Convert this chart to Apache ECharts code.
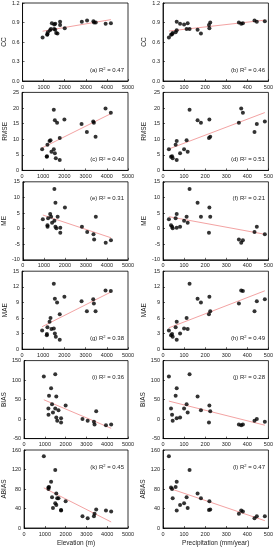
<!DOCTYPE html>
<html><head><meta charset="utf-8">
<script src="https://cdn.jsdelivr.net/npm/echarts@6/dist/echarts.min.js"></script>
<style>html,body{margin:0;padding:0;background:#fff}#c{width:276px;height:550px}</style>
</head><body><div id="c"></div>
<script>
// 23 stations
const elevation     = [950, 1170, 1200, 1300, 1345, 1390, 1500, 1500, 1550, 1550, 1595, 1655, 1780, 1780, 2000, 2810, 3060, 3360, 3390, 3470, 3940, 4190, 1175];
const precipitation = [28, 38, 60, 65, 112, 117, 126, 100, 164, 81, 46, 180, 218, 65, 220, 445, 434, 483, 360, 224, 371, 379, 43];
const CC    = [0.67, 0.71, 0.75, 0.78, 0.80, 0.89, 0.80, 0.87, 0.79, 0.88, 0.74, 0.73, 0.86, 0.91, 0.81, 0.91, 0.93, 0.92, 0.90, 0.90, 0.88, 0.89, 0.72];
const RMSE  = [6.8, 4.4, 8.2, 9.4, 9.7, 6.0, 19.4, 6.8, 16.1, 5.5, 3.9, 15.3, 10.4, 3.3, 16.3, 14.9, 12.3, 15.7, 15.3, 10.8, 19.8, 18.5, 4.5];
const ME    = [3.0, 1.1, 3.3, 4.7, 3.8, 1.9, 12.7, 2.5, 8.3, 0.6, 0.1, 3.8, -1.3, 0.3, 6.8, 0.6, -1.1, -1.8, -3.5, 3.8, -4.5, -3.7, 0.6];
const MAE   = [3.6, 2.7, 4.2, 5.3, 6.0, 3.9, 12.6, 4.0, 9.7, 3.0, 2.4, 9.0, 6.7, 1.8, 10.1, 9.2, 7.3, 9.6, 8.8, 7.3, 11.3, 11.2, 2.9];
const BIAS  = [109, 27, 60, 79, 38, 17, 115, 27, 58, 4, -4, 23, -9, 2, 35, 0, -4, -7, -14, 20, -16, -14, 11];
const ABIAS = [147, 83, 84, 95, 63, 41, 119, 51, 71, 47, 61, 61, 37, 36, 55, 24, 20, 24, 29, 38, 36, 34, 80];

const xTicksElev   = [0, 1000, 2000, 3000, 4000, 5000];
const xTicksPrecip = [0, 100, 200, 300, 400, 500];
const r2Elev   = ['0.47', '0.40', '0.31', '0.38', '0.36', '0.45'];
const r2Precip = ['0.46', '0.51', '0.21', '0.49', '0.28', '0.47'];
const tagsElev   = ['a', 'c', 'e', 'g', 'i', 'k'];
const tagsPrecip = ['b', 'd', 'f', 'h', 'j', 'l'];

const metrics = [
  {name:'CC', data:CC, min:0, max:1.2, interval:0.3, dec:1, pos:'bottom'},
  {name:'RMSE', data:RMSE, min:0, max:25, interval:5, dec:0, pos:'bottom'},
  {name:'ME', data:ME, min:-10, max:15, interval:5, dec:0, pos:'top'},
  {name:'MAE', data:MAE, min:0, max:15, interval:3, dec:0, pos:'bottom'},
  {name:'BIAS', data:BIAS, min:-50, max:150, interval:50, dec:0, pos:'top'},
  {name:'ABIAS', data:ABIAS, min:0, max:160, interval:40, dec:0, pos:'top'}
];

const LEFTS = [22, 163], W = 106, H = 78;
const TOPS = [3, 92.4, 181.8, 271.2, 360.6, 450];
const FONT = 'Liberation Sans, Arial, sans-serif';

function fit(xs, ys) {
  const n = xs.length;
  let sx=0, sy=0, sxx=0, sxy=0;
  for (let i=0;i<n;i++){sx+=xs[i];sy+=ys[i];sxx+=xs[i]*xs[i];sxy+=xs[i]*ys[i];}
  const b = (n*sxy - sx*sy)/(n*sxx - sx*sx);
  const a = (sy - b*sx)/n;
  const x0 = Math.min(...xs), x1 = Math.max(...xs);
  return [[x0, a+b*x0],[x1, a+b*x1]];
}

const grid=[], xAxis=[], yAxis=[], series=[], graphic=[];
let gi = 0;
metrics.forEach((m, r) => {
  [0,1].forEach(c => {
    const xs = c===0 ? elevation : precipitation;
    const ticks = c===0 ? xTicksElev : xTicksPrecip;
    grid.push({left: LEFTS[c], top: TOPS[r], width: W, height: H, show: true,
      borderColor: '#000', borderWidth: 0.8, backgroundColor: '#fff'});
    xAxis.push({gridIndex: gi, type: 'value', min: ticks[0], max: ticks[ticks.length-1],
      interval: ticks[1]-ticks[0],
      axisLine: {show: true, onZero: false, lineStyle: {color: '#000', width: 0.8}},
      axisTick: {inside: true, length: 2, lineStyle: {color: '#000', width: 0.6}},
      axisLabel: {fontSize: 5.5, color: '#222', margin: 3, fontFamily: FONT,
        formatter: v => String(v)},
      splitLine: {show: false},
      name: r === metrics.length-1 ? (c===0 ? 'Elevation (m)' : 'Precipitation (mm/year)') : '',
      nameLocation: 'middle', nameGap: 12,
      nameTextStyle: {fontSize: 6.5, color: '#222', fontFamily: FONT}
    });
    yAxis.push({gridIndex: gi, type: 'value', min: m.min, max: m.max, interval: m.interval,
      axisLine: {show: true, onZero: false, lineStyle: {color: '#000', width: 0.8}},
      axisTick: {inside: true, length: 2, lineStyle: {color: '#000', width: 0.6}},
      axisLabel: {fontSize: 5.5, color: '#222', margin: 3, fontFamily: FONT,
        formatter: v => v.toFixed(m.dec)},
      splitLine: {show: false},
      name: m.name, nameLocation: 'middle', nameGap: c===0 ? 13 : 15, nameRotate: 90,
      nameTextStyle: {fontSize: 6.5, color: '#222', fontFamily: FONT}
    });
    const pts = xs.map((x,i)=>[x, m.data[i]]);
    series.push({type: 'line', xAxisIndex: gi, yAxisIndex: gi, data: fit(xs, m.data),
      symbol: 'none', lineStyle: {color: '#f3a3a3', width: 1}, silent: true, z: 2, animation: false});
    series.push({type: 'scatter', xAxisIndex: gi, yAxisIndex: gi, data: pts,
      symbolSize: 4, itemStyle: {color: '#000'}, z: 3, animation: false});
    const tag = c===0 ? tagsElev[r] : tagsPrecip[r];
    const r2 = c===0 ? r2Elev[r] : r2Precip[r];
    const ty = m.pos === 'bottom' ? TOPS[r] + H - 14 : TOPS[r] + 14;
    graphic.push({type: 'text', right: 276 - (LEFTS[c] + W - 4), top: ty, z: 10,
      style: {text: '(' + tag + ') R{s|2} = ' + r2, fill: '#222', font: '6px ' + FONT,
        rich: {s: {fontSize: 4, verticalAlign: 'top', fill: '#222', fontFamily: FONT}}}});
    gi++;
  });
});

const chart = echarts.init(document.getElementById('c'));
chart.setOption({animation: false, backgroundColor: '#fff', grid, xAxis, yAxis, series, graphic});
</script>
</body></html>
